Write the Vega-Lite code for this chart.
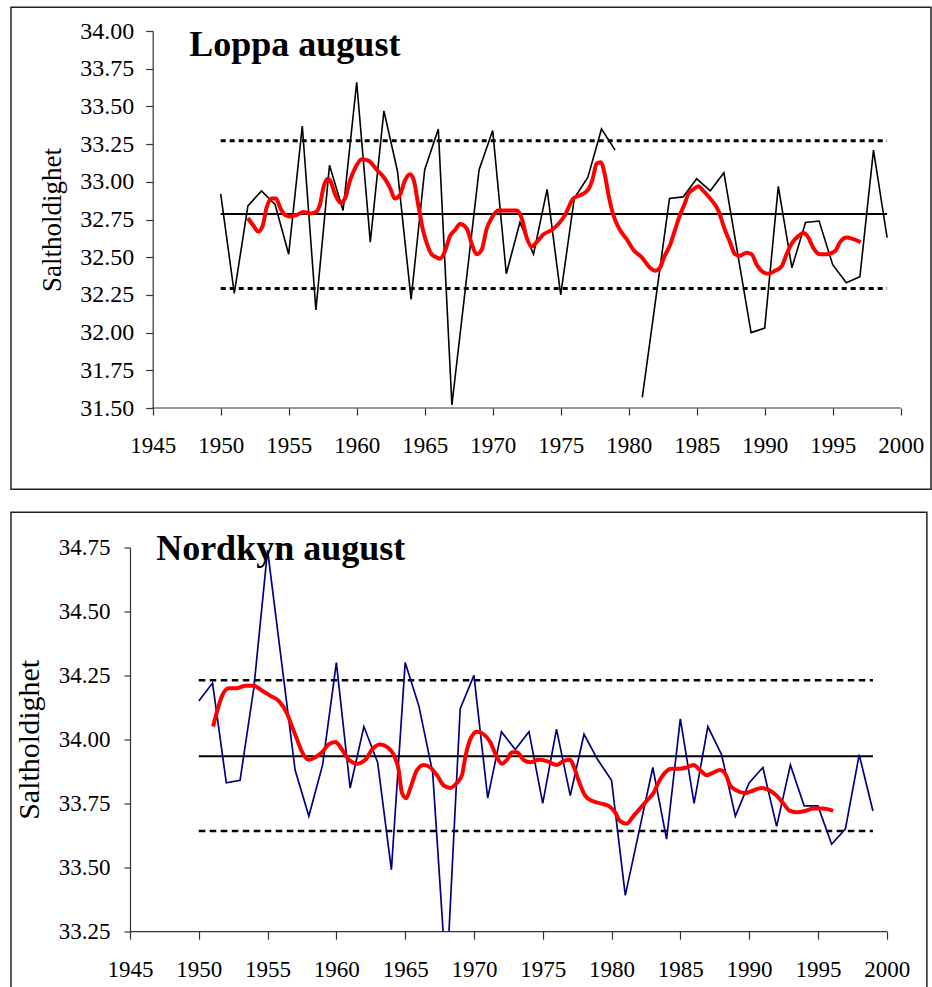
{
  "$schema": "https://vega.github.io/schema/vega-lite/v6.json",
  "background": "white",
  "padding": {"left": 10, "top": 6, "right": 0, "bottom": 0},
  "config": {
    "view": {"stroke": null},
    "font": "Liberation Serif",
    "axis": {
      "grid": false,
      "labelFont": "Liberation Serif",
      "labelColor": "black",
      "titleFont": "Liberation Serif",
      "titleColor": "black",
      "titleFontWeight": "normal",
      "domainColor": "#333",
      "domainWidth": 1.2,
      "tickColor": "#333",
      "tickWidth": 1.2,
      "labelFlush": false,
      "labelOverlap": false,
      "labelBound": false
    }
  },
  "datasets": {
    "loppa": [
      {"year": 1950, "s": 32.92, "seg": "a"}, {"year": 1951, "s": 32.26, "seg": "a"}, {"year": 1952, "s": 32.84, "seg": "a"},
      {"year": 1953, "s": 32.94, "seg": "a"}, {"year": 1954, "s": 32.85, "seg": "a"}, {"year": 1955, "s": 32.52, "seg": "a"},
      {"year": 1956, "s": 33.37, "seg": "a"}, {"year": 1957, "s": 32.15, "seg": "a"}, {"year": 1958, "s": 33.11, "seg": "a"},
      {"year": 1959, "s": 32.81, "seg": "a"}, {"year": 1960, "s": 33.66, "seg": "a"}, {"year": 1961, "s": 32.60, "seg": "a"},
      {"year": 1962, "s": 33.47, "seg": "a"}, {"year": 1963, "s": 33.07, "seg": "a"}, {"year": 1964, "s": 32.22, "seg": "a"},
      {"year": 1965, "s": 33.08, "seg": "a"}, {"year": 1966, "s": 33.35, "seg": "a"}, {"year": 1967, "s": 31.52, "seg": "a"},
      {"year": 1968, "s": 32.30, "seg": "a"}, {"year": 1969, "s": 33.08, "seg": "a"}, {"year": 1970, "s": 33.34, "seg": "a"},
      {"year": 1971, "s": 32.39, "seg": "a"}, {"year": 1972, "s": 32.73, "seg": "a"}, {"year": 1973, "s": 32.52, "seg": "a"},
      {"year": 1974, "s": 32.95, "seg": "a"}, {"year": 1975, "s": 32.25, "seg": "a"}, {"year": 1976, "s": 32.89, "seg": "a"},
      {"year": 1977, "s": 33.03, "seg": "a"}, {"year": 1978, "s": 33.35, "seg": "a"}, {"year": 1979, "s": 33.21, "seg": "a"},
      {"year": 1981, "s": 31.57, "seg": "b"}, {"year": 1982, "s": 32.23, "seg": "b"}, {"year": 1983, "s": 32.89, "seg": "b"},
      {"year": 1984, "s": 32.90, "seg": "b"}, {"year": 1985, "s": 33.02, "seg": "b"}, {"year": 1986, "s": 32.94, "seg": "b"},
      {"year": 1987, "s": 33.06, "seg": "b"}, {"year": 1988, "s": 32.53, "seg": "b"}, {"year": 1989, "s": 32.00, "seg": "b"},
      {"year": 1990, "s": 32.03, "seg": "b"}, {"year": 1991, "s": 32.97, "seg": "b"}, {"year": 1992, "s": 32.43, "seg": "b"},
      {"year": 1993, "s": 32.73, "seg": "b"}, {"year": 1994, "s": 32.74, "seg": "b"}, {"year": 1995, "s": 32.45, "seg": "b"},
      {"year": 1996, "s": 32.33, "seg": "b"}, {"year": 1997, "s": 32.37, "seg": "b"}, {"year": 1998, "s": 33.21, "seg": "b"},
      {"year": 1999, "s": 32.63, "seg": "b"}
    ],
    "loppaSmooth": [
      {"year": 1952.0, "s": 32.76}, {"year": 1952.4, "s": 32.71}, {"year": 1952.77, "s": 32.67}, {"year": 1953.09, "s": 32.71},
      {"year": 1953.38, "s": 32.83}, {"year": 1953.75, "s": 32.89}, {"year": 1954.07, "s": 32.89}, {"year": 1954.36, "s": 32.83},
      {"year": 1954.73, "s": 32.78}, {"year": 1955.1, "s": 32.77}, {"year": 1955.59, "s": 32.78}, {"year": 1956.08, "s": 32.80},
      {"year": 1956.57, "s": 32.79}, {"year": 1957.0, "s": 32.80}, {"year": 1957.3, "s": 32.85}, {"year": 1957.55, "s": 32.96},
      {"year": 1957.84, "s": 33.02}, {"year": 1958.04, "s": 33.01}, {"year": 1958.4, "s": 32.92}, {"year": 1958.82, "s": 32.86},
      {"year": 1959.14, "s": 32.89}, {"year": 1959.51, "s": 33.01}, {"year": 1959.88, "s": 33.09}, {"year": 1960.37, "s": 33.15},
      {"year": 1960.86, "s": 33.14}, {"year": 1961.47, "s": 33.08}, {"year": 1962.08, "s": 33.02}, {"year": 1962.45, "s": 32.96},
      {"year": 1962.8, "s": 32.89}, {"year": 1963.16, "s": 32.91}, {"year": 1963.55, "s": 33.01}, {"year": 1963.92, "s": 33.05},
      {"year": 1964.2, "s": 33.01}, {"year": 1964.52, "s": 32.85}, {"year": 1964.9, "s": 32.67}, {"year": 1965.2, "s": 32.58},
      {"year": 1965.5, "s": 32.52}, {"year": 1965.85, "s": 32.50}, {"year": 1966.13, "s": 32.49}, {"year": 1966.49, "s": 32.54},
      {"year": 1966.86, "s": 32.64}, {"year": 1967.23, "s": 32.68}, {"year": 1967.6, "s": 32.72}, {"year": 1968.09, "s": 32.69},
      {"year": 1968.45, "s": 32.59}, {"year": 1968.82, "s": 32.52}, {"year": 1969.19, "s": 32.55}, {"year": 1969.56, "s": 32.69},
      {"year": 1969.92, "s": 32.76}, {"year": 1970.41, "s": 32.81}, {"year": 1971.03, "s": 32.81}, {"year": 1971.76, "s": 32.81},
      {"year": 1972.13, "s": 32.76}, {"year": 1972.5, "s": 32.63}, {"year": 1972.86, "s": 32.57}, {"year": 1973.23, "s": 32.60},
      {"year": 1973.72, "s": 32.65}, {"year": 1974.33, "s": 32.68}, {"year": 1974.83, "s": 32.72}, {"year": 1975.32, "s": 32.78},
      {"year": 1975.93, "s": 32.89}, {"year": 1976.42, "s": 32.91}, {"year": 1977.03, "s": 32.95}, {"year": 1977.35, "s": 33.02},
      {"year": 1977.64, "s": 33.12}, {"year": 1977.94, "s": 33.13}, {"year": 1978.26, "s": 33.04}, {"year": 1978.5, "s": 32.92},
      {"year": 1978.87, "s": 32.78}, {"year": 1979.36, "s": 32.68}, {"year": 1979.85, "s": 32.62}, {"year": 1980.34, "s": 32.55},
      {"year": 1980.95, "s": 32.50}, {"year": 1981.57, "s": 32.43}, {"year": 1981.93, "s": 32.41}, {"year": 1982.3, "s": 32.43},
      {"year": 1982.6, "s": 32.50}, {"year": 1983.04, "s": 32.58}, {"year": 1983.4, "s": 32.68}, {"year": 1983.77, "s": 32.78},
      {"year": 1984.14, "s": 32.86}, {"year": 1984.38, "s": 32.92}, {"year": 1984.75, "s": 32.95}, {"year": 1985.12, "s": 32.97},
      {"year": 1985.49, "s": 32.94}, {"year": 1985.98, "s": 32.89}, {"year": 1986.59, "s": 32.81}, {"year": 1987.08, "s": 32.68},
      {"year": 1987.45, "s": 32.60}, {"year": 1987.82, "s": 32.52}, {"year": 1988.18, "s": 32.51}, {"year": 1988.67, "s": 32.53},
      {"year": 1989.04, "s": 32.52}, {"year": 1989.41, "s": 32.45}, {"year": 1989.9, "s": 32.40}, {"year": 1990.27, "s": 32.39},
      {"year": 1990.76, "s": 32.41}, {"year": 1991.25, "s": 32.44}, {"year": 1991.61, "s": 32.52}, {"year": 1991.98, "s": 32.59},
      {"year": 1992.47, "s": 32.64}, {"year": 1992.84, "s": 32.66}, {"year": 1993.21, "s": 32.63}, {"year": 1993.58, "s": 32.56},
      {"year": 1994.07, "s": 32.52}, {"year": 1994.56, "s": 32.52}, {"year": 1995.17, "s": 32.54}, {"year": 1995.54, "s": 32.60},
      {"year": 1996.03, "s": 32.63}, {"year": 1996.52, "s": 32.62}, {"year": 1997.06, "s": 32.60}
    ],
    "loppaRef": [
      {"kind": "mean", "level": 32.786, "from": 1950, "to": 1999},
      {"kind": "sd", "level": 33.273, "from": 1950, "to": 1999},
      {"kind": "sd", "level": 32.292, "from": 1950, "to": 1999}
    ],
    "nordkyn": [
      {"year": 1950, "s": 34.15}, {"year": 1951, "s": 34.22}, {"year": 1952, "s": 33.83}, {"year": 1953, "s": 33.84},
      {"year": 1954, "s": 34.20}, {"year": 1955, "s": 34.74}, {"year": 1956, "s": 34.31}, {"year": 1957, "s": 33.88},
      {"year": 1958, "s": 33.70}, {"year": 1959, "s": 33.90}, {"year": 1960, "s": 34.30}, {"year": 1961, "s": 33.81},
      {"year": 1962, "s": 34.05}, {"year": 1963, "s": 33.91}, {"year": 1964, "s": 33.49}, {"year": 1965, "s": 34.30},
      {"year": 1966, "s": 34.13}, {"year": 1967, "s": 33.87}, {"year": 1968, "s": 33.05}, {"year": 1969, "s": 34.12},
      {"year": 1970, "s": 34.25}, {"year": 1971, "s": 33.77}, {"year": 1972, "s": 34.03}, {"year": 1973, "s": 33.96},
      {"year": 1974, "s": 34.03}, {"year": 1975, "s": 33.75}, {"year": 1976, "s": 34.04}, {"year": 1977, "s": 33.78},
      {"year": 1978, "s": 34.02}, {"year": 1979, "s": 33.92}, {"year": 1980, "s": 33.84}, {"year": 1981, "s": 33.39},
      {"year": 1982, "s": 33.64}, {"year": 1983, "s": 33.89}, {"year": 1984, "s": 33.61}, {"year": 1985, "s": 34.08},
      {"year": 1986, "s": 33.75}, {"year": 1987, "s": 34.05}, {"year": 1988, "s": 33.94}, {"year": 1989, "s": 33.70},
      {"year": 1990, "s": 33.83}, {"year": 1991, "s": 33.89}, {"year": 1992, "s": 33.66}, {"year": 1993, "s": 33.90},
      {"year": 1994, "s": 33.74}, {"year": 1995, "s": 33.74}, {"year": 1996, "s": 33.59}, {"year": 1997, "s": 33.65},
      {"year": 1998, "s": 33.94}, {"year": 1999, "s": 33.72}
    ],
    "nordkynSmooth": [
      {"year": 1951.04, "s": 34.05}, {"year": 1951.33, "s": 34.11}, {"year": 1951.69, "s": 34.17}, {"year": 1952.18, "s": 34.20},
      {"year": 1952.78, "s": 34.20}, {"year": 1953.39, "s": 34.21}, {"year": 1954.0, "s": 34.21}, {"year": 1954.6, "s": 34.19},
      {"year": 1955.21, "s": 34.17}, {"year": 1955.81, "s": 34.15}, {"year": 1956.42, "s": 34.10}, {"year": 1956.78, "s": 34.05},
      {"year": 1957.14, "s": 34.00}, {"year": 1957.51, "s": 33.95}, {"year": 1957.99, "s": 33.92}, {"year": 1958.47, "s": 33.93},
      {"year": 1958.96, "s": 33.95}, {"year": 1959.44, "s": 33.98}, {"year": 1959.93, "s": 33.99}, {"year": 1960.41, "s": 33.96},
      {"year": 1960.9, "s": 33.92}, {"year": 1961.5, "s": 33.905}, {"year": 1962.11, "s": 33.92}, {"year": 1962.59, "s": 33.96},
      {"year": 1963.2, "s": 33.98}, {"year": 1963.68, "s": 33.97}, {"year": 1964.16, "s": 33.94}, {"year": 1964.53, "s": 33.88},
      {"year": 1964.77, "s": 33.79}, {"year": 1965.08, "s": 33.77}, {"year": 1965.38, "s": 33.81}, {"year": 1965.86, "s": 33.88},
      {"year": 1966.34, "s": 33.90}, {"year": 1966.83, "s": 33.89}, {"year": 1967.31, "s": 33.86}, {"year": 1967.79, "s": 33.82},
      {"year": 1968.28, "s": 33.81}, {"year": 1968.76, "s": 33.83}, {"year": 1969.13, "s": 33.86}, {"year": 1969.37, "s": 33.93},
      {"year": 1969.73, "s": 34.00}, {"year": 1970.22, "s": 34.03}, {"year": 1970.7, "s": 34.02}, {"year": 1971.18, "s": 33.99},
      {"year": 1971.67, "s": 33.93}, {"year": 1972.03, "s": 33.905}, {"year": 1972.4, "s": 33.92}, {"year": 1972.76, "s": 33.95},
      {"year": 1973.12, "s": 33.95}, {"year": 1973.6, "s": 33.92}, {"year": 1974.09, "s": 33.91}, {"year": 1974.69, "s": 33.92},
      {"year": 1975.3, "s": 33.915}, {"year": 1976.02, "s": 33.90}, {"year": 1976.51, "s": 33.915}, {"year": 1976.99, "s": 33.92},
      {"year": 1977.28, "s": 33.89}, {"year": 1977.6, "s": 33.84}, {"year": 1978.08, "s": 33.78}, {"year": 1978.57, "s": 33.76},
      {"year": 1979.17, "s": 33.75}, {"year": 1979.78, "s": 33.74}, {"year": 1980.26, "s": 33.715}, {"year": 1980.62, "s": 33.68},
      {"year": 1981.1, "s": 33.67}, {"year": 1981.59, "s": 33.70}, {"year": 1982.08, "s": 33.73}, {"year": 1982.56, "s": 33.76},
      {"year": 1983.05, "s": 33.79}, {"year": 1983.4, "s": 33.83}, {"year": 1983.89, "s": 33.87}, {"year": 1984.37, "s": 33.885},
      {"year": 1984.98, "s": 33.885}, {"year": 1985.46, "s": 33.89}, {"year": 1985.95, "s": 33.90}, {"year": 1986.43, "s": 33.88},
      {"year": 1986.92, "s": 33.86}, {"year": 1987.4, "s": 33.87}, {"year": 1987.88, "s": 33.88}, {"year": 1988.32, "s": 33.86},
      {"year": 1988.61, "s": 33.82}, {"year": 1989.09, "s": 33.80}, {"year": 1989.7, "s": 33.79}, {"year": 1990.3, "s": 33.80},
      {"year": 1990.91, "s": 33.81}, {"year": 1991.51, "s": 33.80}, {"year": 1992.0, "s": 33.78}, {"year": 1992.48, "s": 33.75},
      {"year": 1992.97, "s": 33.72}, {"year": 1993.45, "s": 33.715}, {"year": 1994.06, "s": 33.72}, {"year": 1994.66, "s": 33.73},
      {"year": 1995.39, "s": 33.73}, {"year": 1996.11, "s": 33.72}
    ],
    "nordkynRef": [
      {"kind": "mean", "level": 33.934, "from": 1950, "to": 1999},
      {"kind": "sd", "level": 34.231, "from": 1950, "to": 1999},
      {"kind": "sd", "level": 33.642, "from": 1950, "to": 1999}
    ]
  },
  "columns": 1,
  "spacing": 19.5,
  "concat": [
    {
      "width": 770.7,
      "height": 377,
      "layer": [
        {
          "data": {"values": [{}]},
          "mark": {"type": "rect", "filled": false, "color": "#222", "strokeWidth": 1.5},
          "encoding": {
            "x": {"datum": 1934.58, "type": "quantitative", "scale": {"domain": [1943.331, 2000], "nice": false, "zero": false},
                  "axis": {"values": [1945, 1950, 1955, 1960, 1965, 1970, 1975, 1980, 1985, 1990, 1995, 2000], "format": "d", "title": null, "domain": false, "tickSize": 7, "labelFontSize": 23, "labelPadding": 19, "labelOverlap": false, "labelFlush": false}},
            "x2": {"datum": 2002.23},
            "y": {"datum": 30.961, "type": "quantitative", "scale": {"domain": [31.5, 34], "nice": false, "zero": false},
                  "axis": {"values": [31.5, 31.75, 32, 32.25, 32.5, 32.75, 33, 33.25, 33.5, 33.75, 34], "tickCount": 11, "labelExpr": "format(datum.value, '.2f')", "offset": -22.7, "title": "Saltholdighet", "titleFontSize": 27, "titlePadding": 13, "tickSize": 7, "labelFontSize": 24, "labelPadding": 12, "labelOverlap": false, "labelSeparation": 0}},
            "y2": {"datum": 34.157}
          }
        },
        {
          "data": {"values": [{}]},
          "mark": {"type": "rule", "color": "#333", "strokeWidth": 1.2},
          "encoding": {
            "x": {"datum": 1945, "type": "quantitative"},
            "x2": {"datum": 2000},
            "y": {"datum": 31.5, "type": "quantitative"}
          }
        },
        {
          "data": {"name": "loppaRef"},
          "transform": [{"filter": "datum.kind == 'mean'"}],
          "mark": {"type": "rule", "color": "black", "strokeWidth": 2},
          "encoding": {
            "x": {"field": "from", "type": "quantitative"},
            "x2": {"field": "to"},
            "y": {"field": "level", "type": "quantitative"}
          }
        },
        {
          "data": {"name": "loppaRef"},
          "transform": [{"filter": "datum.kind == 'sd'"}],
          "mark": {"type": "rule", "color": "black", "strokeWidth": 3, "strokeDash": [5, 4]},
          "encoding": {
            "x": {"field": "from", "type": "quantitative"},
            "x2": {"field": "to"},
            "y": {"field": "level", "type": "quantitative"}
          }
        },
        {
          "data": {"name": "loppa"},
          "mark": {"type": "line", "color": "black", "strokeWidth": 1.6},
          "encoding": {
            "x": {"field": "year", "type": "quantitative"},
            "y": {"field": "s", "type": "quantitative"},
            "detail": {"field": "seg", "type": "nominal"}
          }
        },
        {
          "data": {"name": "loppaSmooth"},
          "mark": {"type": "line", "color": "#ff0000", "strokeWidth": 4, "interpolate": "monotone"},
          "encoding": {
            "x": {"field": "year", "type": "quantitative"},
            "y": {"field": "s", "type": "quantitative"}
          }
        },
        {
          "data": {"values": [{"label": "Loppa august"}]},
          "mark": {"type": "text", "font": "Liberation Serif", "fontSize": 36, "fontWeight": "bold", "align": "left", "baseline": "alphabetic", "color": "black"},
          "encoding": {
            "x": {"datum": 1947.69, "type": "quantitative"},
            "y": {"datum": 33.832, "type": "quantitative"},
            "text": {"field": "label"}
          }
        }
      ]
    },
    {
      "width": 756.7,
      "height": 383.7,
      "layer": [
        {
          "data": {"values": [{}]},
          "mark": {"type": "rect", "filled": false, "color": "#222", "strokeWidth": 1.5},
          "encoding": {
            "x": {"datum": 1936.35, "type": "quantitative", "scale": {"domain": [1945, 2000], "nice": false, "zero": false},
                  "axis": {"values": [1945, 1950, 1955, 1960, 1965, 1970, 1975, 1980, 1985, 1990, 1995, 2000], "format": "d", "title": null, "tickSize": 8, "labelFontSize": 23, "labelPadding": 19, "labelOverlap": false, "labelFlush": false}},
            "x2": {"datum": 2002.92},
            "y": {"datum": 32.933, "type": "quantitative", "scale": {"domain": [33.25, 34.75], "nice": false, "zero": false},
                  "axis": {"values": [33.25, 33.375, 33.5, 33.625, 33.75, 33.875, 34, 34.125, 34.25, 34.375, 34.5, 34.625, 34.75], "labelExpr": "(datum.value * 8) % 2 == 0 ? format(datum.value, '.2f') : ''", "title": "Saltholdighet", "titleFontSize": 30, "titlePadding": 14, "tickSize": 6, "labelFontSize": 23, "labelPadding": 14, "labelOverlap": false}},
            "y2": {"datum": 34.888}
          }
        },
        {
          "data": {"name": "nordkynRef"},
          "transform": [{"filter": "datum.kind == 'mean'"}],
          "mark": {"type": "rule", "color": "black", "strokeWidth": 2},
          "encoding": {
            "x": {"field": "from", "type": "quantitative"},
            "x2": {"field": "to"},
            "y": {"field": "level", "type": "quantitative"}
          }
        },
        {
          "data": {"name": "nordkynRef"},
          "transform": [{"filter": "datum.kind == 'sd'"}],
          "mark": {"type": "rule", "color": "black", "strokeWidth": 2.5, "strokeDash": [6.5, 4.5]},
          "encoding": {
            "x": {"field": "from", "type": "quantitative"},
            "x2": {"field": "to"},
            "y": {"field": "level", "type": "quantitative"}
          }
        },
        {
          "data": {"name": "nordkyn"},
          "mark": {"type": "line", "color": "#000080", "strokeWidth": 1.7, "clip": true},
          "encoding": {
            "x": {"field": "year", "type": "quantitative"},
            "y": {"field": "s", "type": "quantitative"}
          }
        },
        {
          "data": {"name": "nordkynSmooth"},
          "mark": {"type": "line", "color": "#ff0000", "strokeWidth": 4, "interpolate": "monotone"},
          "encoding": {
            "x": {"field": "year", "type": "quantitative"},
            "y": {"field": "s", "type": "quantitative"}
          }
        },
        {
          "data": {"values": [{"label": "Nordkyn august"}]},
          "mark": {"type": "text", "font": "Liberation Serif", "fontSize": 36, "fontWeight": "bold", "align": "left", "baseline": "alphabetic", "color": "black"},
          "encoding": {
            "x": {"datum": 1946.9, "type": "quantitative"},
            "y": {"datum": 34.7, "type": "quantitative"},
            "text": {"field": "label"}
          }
        }
      ]
    }
  ]
}
